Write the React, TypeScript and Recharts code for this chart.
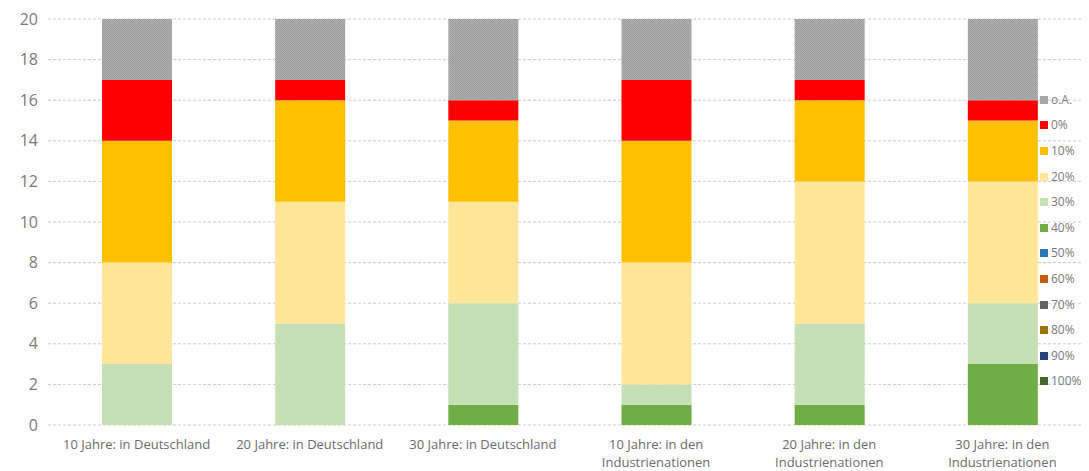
import React from "react";
import { BarChart, Bar, XAxis, YAxis, CartesianGrid } from "recharts";

// Antwortanteile je Zeithorizont (Anzahl Nennungen)
const categoryLines: string[][] = [
  ["10 Jahre: in Deutschland"],
  ["20 Jahre: in Deutschland"],
  ["30 Jahre: in Deutschland"],
  ["10 Jahre: in den", "Industrienationen"],
  ["20 Jahre: in den", "Industrienationen"],
  ["30 Jahre: in den", "Industrienationen"],
];
const categories = categoryLines.map((l) => l.join(" "));

// stacking order: bottom (100%) to top (o.A.)
const seriesKeys = ["100%", "90%", "80%", "70%", "60%", "50%", "40%", "30%", "20%", "10%", "0%", "o.A."];

const v100 = [0, 0, 0, 0, 0, 0];
const v90 = [0, 0, 0, 0, 0, 0];
const v80 = [0, 0, 0, 0, 0, 0];
const v70 = [0, 0, 0, 0, 0, 0];
const v60 = [0, 0, 0, 0, 0, 0];
const v50 = [0, 0, 0, 0, 0, 0];
const v40 = [0, 0, 1, 1, 1, 3];
const v30 = [3, 5, 5, 1, 4, 3];
const v20 = [5, 6, 5, 6, 7, 6];
const v10 = [6, 5, 4, 6, 4, 3];
const v0 = [3, 1, 1, 3, 1, 1];
const vOA = [3, 3, 4, 3, 3, 4];

const seriesValues = [v100, v90, v80, v70, v60, v50, v40, v30, v20, v10, v0, vOA];

const yTicks = [0, 2, 4, 6, 8, 10, 12, 14, 16, 18, 20];

const COLORS: Record<string, string> = {
  "100%": "#43682b",
  "90%": "#264478",
  "80%": "#997300",
  "70%": "#636363",
  "60%": "#c55a11",
  "50%": "#2e75b6",
  "40%": "#70ad47",
  "30%": "#c5e0b4",
  "20%": "#ffe699",
  "10%": "#ffc000",
  "0%": "#ff0000",
  "o.A.": "url(#oaPattern)",
};
const LEGEND_SWATCH: Record<string, string> = { ...COLORS, "o.A.": "#a5a5a5" };

const data = categories.map((name, i) => {
  const row: Record<string, string | number> = { name };
  seriesKeys.forEach((k, s) => (row[k] = seriesValues[s][i]));
  return row;
});

const CategoryTick = ({ x, y, payload }: any) => {
  const idx = categories.indexOf(payload.value);
  const lines = categoryLines[idx] ?? [payload.value];
  return (
    <text x={x} y={y} textAnchor="middle" fill="#6b6b6b" fontSize={13} fontFamily="'Open Sans', sans-serif">
      {lines.map((l, i) => (
        <tspan key={i} x={x} dy={i === 0 ? 22 : 18}>
          {l}
        </tspan>
      ))}
    </text>
  );
};

// legend column on the right, top entry first
const SideLegend = () => (
  <div
    style={{
      position: "absolute",
      left: 1032,
      top: 79,
      zIndex: 2,
      fontFamily: "'Open Sans', sans-serif",
      fontSize: 12,
      color: "#7a7a7a",
      lineHeight: 1,
    }}
  >
    {[...seriesKeys].reverse().map((k) => (
      <div key={k} style={{ display: "flex", alignItems: "center", height: 25.6 }}>
        <span style={{ width: 8, height: 8, background: LEGEND_SWATCH[k], marginRight: 3, display: "inline-block" }} />
        <span>{k}</span>
      </div>
    ))}
  </div>
);

export default function App() {
  return (
    <div style={{ position: "relative", width: 1081, height: 463, overflow: "hidden" }}>
      <BarChart
        width={1081}
        height={463}
        data={data}
        margin={{ top: 11, right: 0, left: 0, bottom: 0 }}
        barSize={70}
      >
        <defs>
          <pattern id="oaPattern" width="2" height="2" patternUnits="userSpaceOnUse">
            <rect width="2" height="2" fill="#b0b0b0" />
            <rect width="1" height="1" fill="#9c9c9c" />
            <rect x="1" y="1" width="1" height="1" fill="#9c9c9c" />
          </pattern>
        </defs>
        <CartesianGrid vertical={false} stroke="#cccccc" strokeDasharray="3 2" />
        <XAxis
          dataKey="name"
          height={46}
          axisLine={false}
          tickLine={false}
          tickSize={0}
          interval={0}
          padding={{ left: 2, right: 0 }}
          tick={<CategoryTick />}
        />
        <YAxis
          domain={[0, 20]}
          ticks={yTicks}
          width={40}
          axisLine={false}
          tickLine={false}
          tickSize={0}
          tickMargin={10}
          tick={{ fontSize: 16, fill: "#7a7a7a", fontFamily: "'Open Sans', sans-serif" }}
        />
        {seriesKeys.map((k) => (
          <Bar key={k} dataKey={k} stackId="a" fill={COLORS[k]} isAnimationActive={false} />
        ))}
      </BarChart>
      <SideLegend />
    </div>
  );
}
